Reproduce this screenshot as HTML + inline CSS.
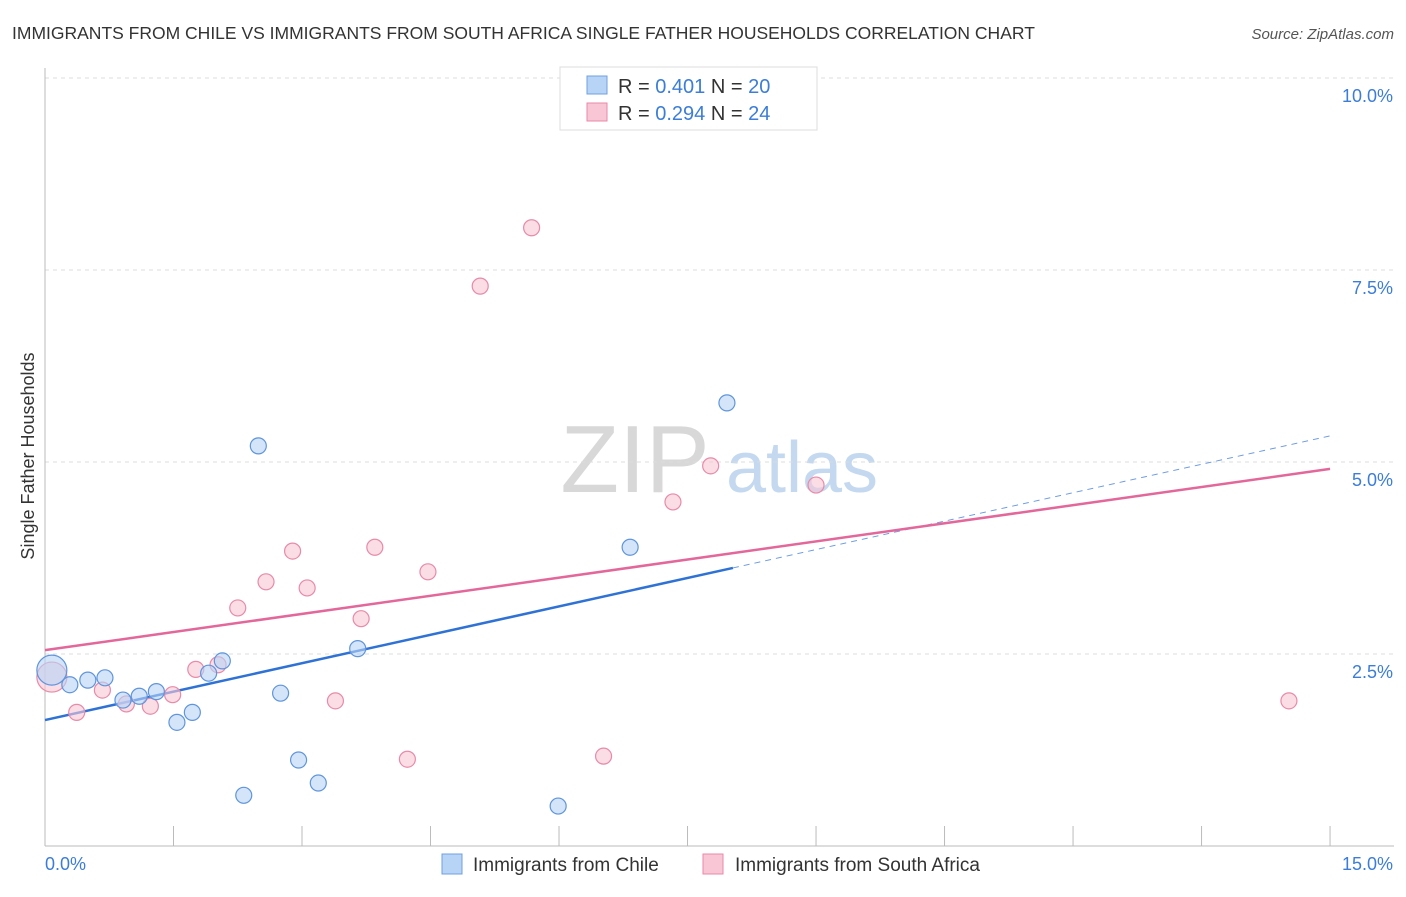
<!DOCTYPE html>
<html><head><meta charset="utf-8"><style>
body{margin:0;background:#fff;font-family:"Liberation Sans",sans-serif;}
svg text{font-family:"Liberation Sans",sans-serif;}
</style></head><body>
<svg width="1406" height="892" id="chart">
<text x="12" y="39" font-size="17.5" fill="#333">IMMIGRANTS FROM CHILE VS IMMIGRANTS FROM SOUTH AFRICA SINGLE FATHER HOUSEHOLDS CORRELATION CHART</text>
<text x="1394" y="39" font-size="15" fill="#555" font-style="italic" text-anchor="end">Source: ZipAtlas.com</text>
<g>
<text x="635" y="492" font-size="96" fill="#d8d8d8" text-anchor="middle" font-family="Liberation Serif">ZIP</text>
<text x="802" y="492" font-size="72" fill="#c4d8f0" text-anchor="middle">atlas</text>
</g>
<g id="grid"></g>
<g id="axes"></g>
<g id="lines"></g>
<g id="points"></g>
<text x="34" y="456" font-size="18" fill="#333" text-anchor="middle" transform="rotate(-90 34 456)">Single Father Households</text>
<g>
<rect x="560" y="67" width="257" height="63" fill="#fff" stroke="#ddd"/>
<rect x="587" y="76" width="20" height="18" fill="#b7d3f6" stroke="#6fa0e0"/>
<text x="618" y="93" font-size="20" fill="#333">R = <tspan fill="#3b7dd8">0.401</tspan>   N = <tspan fill="#3b7dd8">20</tspan></text>
<rect x="587" y="103" width="20" height="18" fill="#f9c6d6" stroke="#e88aa8"/>
<text x="618" y="120" font-size="20" fill="#333">R = <tspan fill="#3b7dd8">0.294</tspan>   N = <tspan fill="#3b7dd8">24</tspan></text>
</g>
<g>
<rect x="442" y="854" width="20" height="20" fill="#b7d3f6" stroke="#6fa0e0"/>
<text x="473" y="871" font-size="19" fill="#333">Immigrants from Chile</text>
<rect x="703" y="854" width="20" height="20" fill="#f9c6d6" stroke="#e88aa8"/>
<text x="735" y="871" font-size="19" fill="#333">Immigrants from South Africa</text>
</g>
</svg>
<script>
const chileX=[0.08,0.29,0.50,0.70,0.91,1.10,1.30,1.54,1.72,1.91,2.07,2.32,2.49,2.75,2.96,3.19,3.65,5.99,6.83,7.96];
const chileY=[2.29,2.10,2.16,2.19,1.90,1.95,2.01,1.61,1.74,2.25,2.41,0.66,5.21,1.99,1.12,0.82,2.57,0.52,3.89,5.77];
const saX=[0.08,0.37,0.67,0.95,1.23,1.49,1.76,2.02,2.25,2.58,2.89,3.06,3.39,3.69,3.85,4.23,4.47,5.08,5.68,6.52,7.33,7.77,9.00,14.52];
const saY=[2.20,1.74,2.03,1.85,1.82,1.97,2.30,2.36,3.10,3.44,3.84,3.36,1.89,2.96,3.89,1.13,3.57,7.29,8.05,1.17,4.48,4.95,4.70,1.89];
const chileTrend=[1.64,5.34]; // y at x=0 and x=15
const saTrend=[2.55,4.91];
const chileSolidEnd=8.03;
const yTicks=[2.5,5.0,7.5,10.0];
const xTicks=[0,1.5,3,4.5,6,7.5,9,10.5,12,13.5,15];
const NS="http://www.w3.org/2000/svg";
const X=v=>45+v*85.67, Y=v=>846-v*76.8;
function mk(p,tag,a){const e=document.createElementNS(NS,tag);for(const k in a)e.setAttribute(k,a[k]);document.getElementById(p).appendChild(e);return e;}
yTicks.forEach(t=>{
 const l=mk('grid','line',{x1:45,x2:1394,y1:Y(t),y2:Y(t),stroke:'#ddd','stroke-dasharray':'4,4'});
 
 
 const tx=mk('grid','text',{x:1393,y:Y(t)+24,'font-size':18,fill:'#3b7dd8','text-anchor':'end'});
 tx.textContent=t.toFixed(1)+'%';
 
 
});
const ax=mk('axes','line',{x1:45,x2:1394,y1:846,y2:846,stroke:'#bbb'});


const ay=mk('axes','line',{x1:45,x2:45,y1:68,y2:846,stroke:'#bbb'});


xTicks.forEach(t=>{
 const l=mk('axes','line',{x1:X(t),x2:X(t),y1:826,y2:846,stroke:'#bbb'});
 
 
});
[[0,'0.0%','start',45],[15,'15.0%','end',1393]].forEach(d=>{
 const tx=mk('axes','text',{x:d[3],y:870,'font-size':18,fill:'#3b7dd8','text-anchor':d[2]});
 tx.textContent=d[1];
 
 
});
const ty=x=>chileTrend[0]+(chileTrend[1]-chileTrend[0])*x/15;
let l1=mk('lines','line',{x1:X(0),y1:Y(ty(0)),x2:X(chileSolidEnd),y2:Y(ty(chileSolidEnd)),stroke:'#2f72d6','stroke-width':2.5});


let l2=mk('lines','line',{x1:X(chileSolidEnd),y1:Y(ty(chileSolidEnd)),x2:X(15),y2:Y(ty(15)),stroke:'#6b9be0','stroke-width':1,'stroke-dasharray':'6,5'});


let l3=mk('lines','line',{x1:X(0),y1:Y(saTrend[0]),x2:X(15),y2:Y(saTrend[1]),stroke:'#e3679a','stroke-width':2.5});


function pts(xs,ys,fill,stroke,name){
 xs.forEach((x,i)=>{
  const c=mk('points','circle',{cx:X(x),cy:Y(ys[i]),r:i==0?15:8,fill:fill,'fill-opacity':0.6,stroke:stroke,'stroke-width':1.2});
  
  
 });
}
pts(saX,saY,'#f9c6d6','#e88aa8','south-africa-point');
pts(chileX,chileY,'#b7d3f6','#5f95dc','chile-point');
</script>
</body></html>
